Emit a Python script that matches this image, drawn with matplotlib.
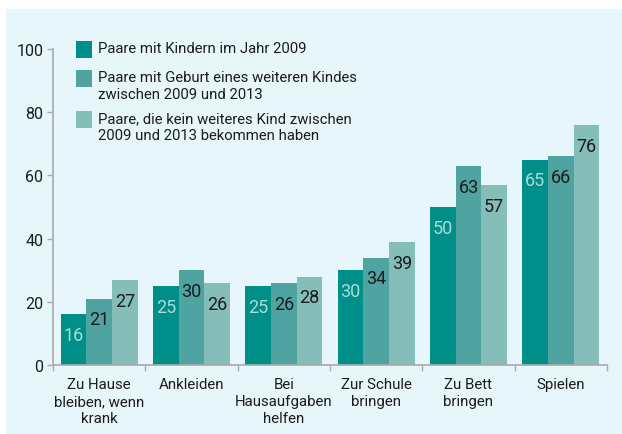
import numpy as np
import matplotlib
matplotlib.use("Agg")
import matplotlib.pyplot as plt
from matplotlib.patches import Rectangle

plt.rcParams['font.family'] = ['Roboto', 'DejaVu Sans']

# Daten
kategorien = ['Zu Hause\nbleiben, wenn\nkrank', 'Ankleiden', 'Bei\nHausaufgaben\nhelfen',
              'Zur Schule\nbringen', 'Zu Bett\nbringen', 'Spielen']
serie_namen = ['Paare mit Kindern im Jahr 2009',
               'Paare mit Geburt eines weiteren Kindes\nzwischen 2009 und 2013',
               'Paare, die kein weiteres Kind zwischen\n2009 und 2013 bekommen haben']
werte_2009 = [16, 25, 25, 30, 50, 65]
werte_geburt = [21, 30, 26, 34, 63, 66]
werte_kein = [27, 26, 28, 39, 57, 76]
y_ticks = [0, 20, 40, 60, 80, 100]

farben = ['#008f88', '#4fa3a1', '#85bdb8']
label_farben = ['#a8dcd6', '#1c1c1c', '#1c1c1c']
hintergrund = '#e7f6fa'
achse = '#a9a9a9'

fig = plt.figure(figsize=(6.22, 4.35), dpi=100)
fig.patch.set_facecolor('white')
fig.patches.append(Rectangle((6 / 622, 0), 1, 1 - 10 / 435, transform=fig.transFigure,
                             facecolor=hintergrund, edgecolor='none', zorder=-10))

ax = fig.add_axes([53 / 622, 1 - 366 / 435, 554 / 622, 316 / 435])
ax.set_facecolor('none')

x = np.arange(len(kategorien))
breite = 0.278
for i, werte in enumerate([werte_2009, werte_geburt, werte_kein]):
    bars = ax.bar(x + (i - 1) * breite, werte, breite, color=farben[i], zorder=2)
    for b, v in zip(bars, werte):
        ax.annotate(str(v), (b.get_x() + b.get_width() / 2, v), xytext=(0, -15),
                    textcoords='offset points', ha='center', va='center',
                    fontsize=13, color=label_farben[i], zorder=3)

ax.set_xlim(-0.5, len(kategorien) - 0.5)
ax.set_ylim(0, 100)
ax.set_yticks(y_ticks)
ax.tick_params(axis='y', length=4, width=1, color=achse, labelsize=11.5, pad=3,
               labelcolor='#1c1c1c')
ax.set_xticks(np.arange(len(kategorien) + 1) - 0.5)
ax.set_xticklabels([])
ax.tick_params(axis='x', length=4, width=1, color=achse)
ax.set_xticks(x, minor=True)
ax.set_xticklabels(kategorien, minor=True, fontsize=10.8, color='#1c1c1c',
                   linespacing=1.25)
ax.tick_params(axis='x', which='minor', length=0, pad=9)

for s in ['top', 'right']:
    ax.spines[s].set_visible(False)
for s in ['left', 'bottom']:
    ax.spines[s].set_color(achse)
    ax.spines[s].set_linewidth(1.2)

# Legende
leg_y = [1.0, 0.908, 0.778]
for i, name in enumerate(serie_namen):
    ax.add_patch(Rectangle((0.0415, leg_y[i] - 0.027), 0.029, 0.052, transform=ax.transAxes,
                           facecolor=farben[i], edgecolor='none', clip_on=False))
    ax.text(0.081, leg_y[i] + 0.026, name, transform=ax.transAxes, ha='left', va='top',
            fontsize=10.7, color='#1c1c1c', linespacing=1.3)

fig.savefig('out.png', dpi=100, facecolor=fig.get_facecolor())
